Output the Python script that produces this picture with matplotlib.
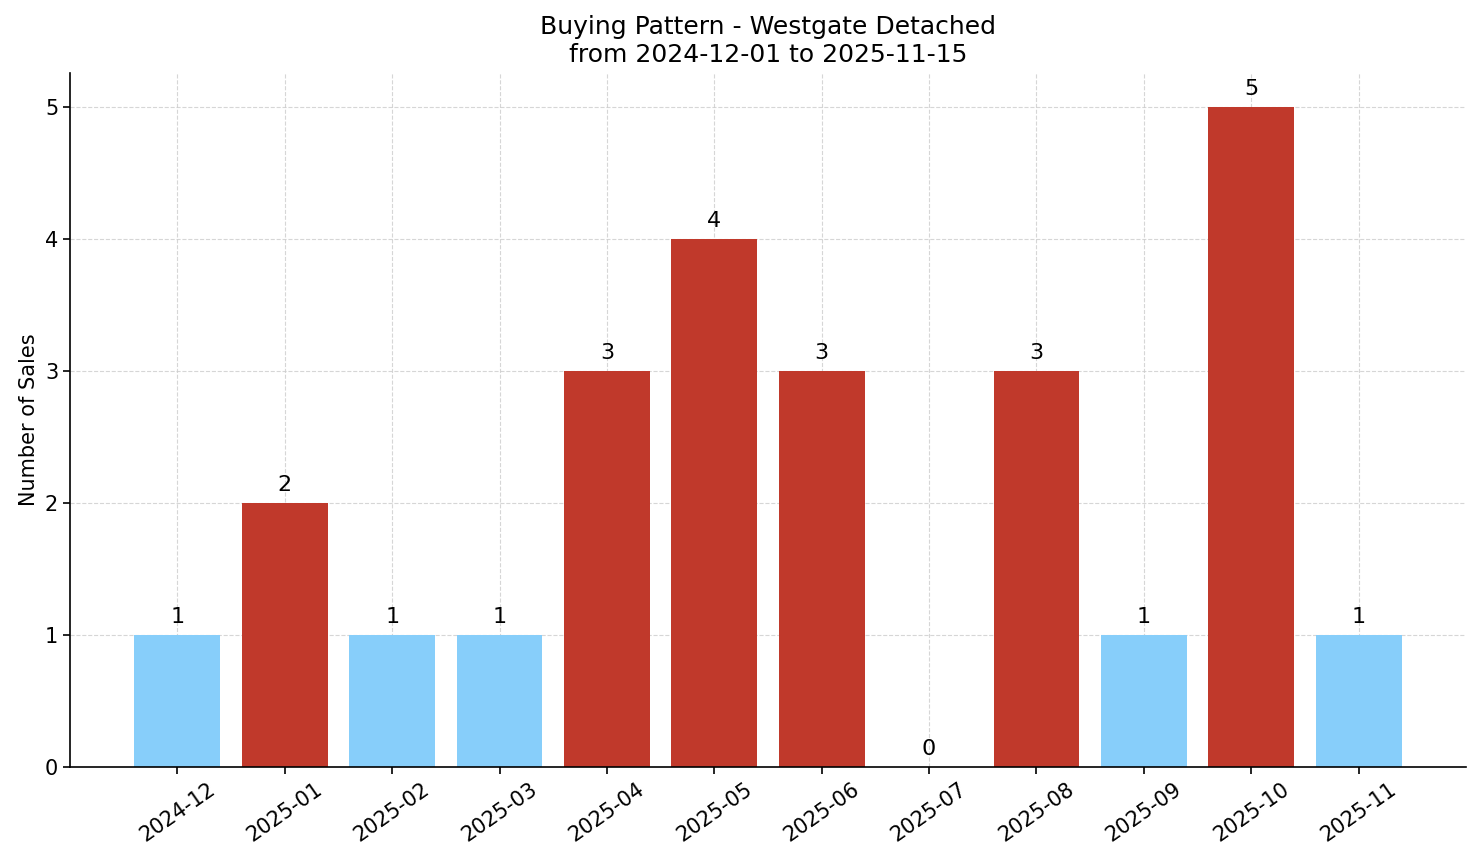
import matplotlib
matplotlib.use("Agg")
import matplotlib.pyplot as plt

months = ["2024-12", "2025-01", "2025-02", "2025-03", "2025-04", "2025-05",
          "2025-06", "2025-07", "2025-08", "2025-09", "2025-10", "2025-11"]
sales = [1, 2, 1, 1, 3, 4, 3, 0, 3, 1, 5, 1]

RED = "#c0392b"
BLUE = "#87cefa"
colors = [RED if v >= 2 else BLUE for v in sales]

fig = plt.figure(figsize=(14.81, 8.63), dpi=100)
ax = fig.add_axes([70 / 1481, 1 - 767 / 863, (1466 - 70) / 1481, (767 - 73) / 863])

x = list(range(len(months)))
ax.bar(x, sales, width=0.8, color=colors, zorder=2)
for xi, v in zip(x, sales):
    ax.text(xi, v + 0.06, str(v), ha="center", va="bottom", fontsize=16)

ax.set_xlim(-1, 12)
ax.set_ylim(0, 5.26)
ax.set_xticks(x)
ax.set_xticklabels(months, rotation=35, fontsize=15)
ax.tick_params(axis="both", labelsize=15, length=5, width=1.2)
ax.set_ylabel("Number of Sales", fontsize=15)
ax.set_title("Buying Pattern - Westgate Detached\nfrom 2024-12-01 to 2025-11-15",
             fontsize=18, pad=8)
ax.grid(True, linestyle="--", color="#cccccc", linewidth=0.8, alpha=0.8, zorder=0)
ax.set_axisbelow(True)
ax.spines["top"].set_visible(False)
ax.spines["right"].set_visible(False)
for s in ("left", "bottom"):
    ax.spines[s].set_linewidth(1.2)

fig.savefig("out.png", dpi=100, facecolor="white")
